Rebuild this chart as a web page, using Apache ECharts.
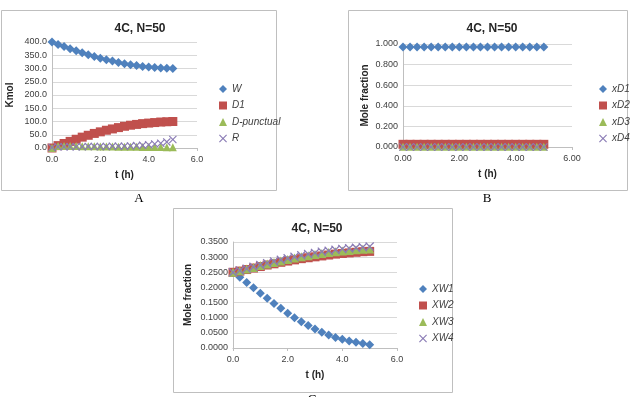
<!DOCTYPE html>
<html>
<head>
<meta charset="utf-8">
<script src="https://cdn.jsdelivr.net/npm/echarts@6/dist/echarts.min.js"></script>
<style>
  html, body { margin: 0; padding: 0; background: #fff; }
  #main { width: 639px; height: 397px; }
</style>
</head>
<body>
<div id="main"></div>
<script>
// time steps (h), shared by the three panels
const tHours = [0, 0.25, 0.5, 0.75, 1, 1.25, 1.5, 1.75, 2, 2.25, 2.5, 2.75, 3, 3.25, 3.5, 3.75, 4, 4.25, 4.5, 4.75, 5];

// panel A (Kmol)
const W = [400, 391, 383, 375, 367, 359, 352, 345, 339, 333, 328, 323, 318, 314, 311, 308, 306, 304, 302, 301, 300];
const D1 = [0, 9, 17, 25, 33, 41, 48, 55, 61, 67, 72, 77, 82, 86, 89, 92, 94, 96, 98, 99, 100];
const Dpunctual = [0, 8, 8, 8, 8, 7, 7, 7, 6, 6, 6, 5, 5, 5, 5, 4, 4, 4, 4, 3, 3];
const R = [2, 5, 5, 5, 5, 5, 6, 6, 6, 6, 7, 7, 7, 8, 9, 10, 12, 15, 18, 23, 32];

// panel B (mole fraction, distillate)
const xD1 = [0.972, 0.972, 0.972, 0.972, 0.972, 0.972, 0.972, 0.972, 0.972, 0.972, 0.972, 0.972, 0.972, 0.972, 0.972, 0.972, 0.972, 0.972, 0.972, 0.972, 0.972];
const xD2 = [0.026, 0.026, 0.026, 0.026, 0.026, 0.026, 0.026, 0.026, 0.026, 0.026, 0.026, 0.026, 0.026, 0.026, 0.026, 0.026, 0.026, 0.026, 0.026, 0.026, 0.026];
const xD3 = [0.002, 0.002, 0.002, 0.002, 0.002, 0.002, 0.002, 0.002, 0.002, 0.002, 0.002, 0.002, 0.002, 0.002, 0.002, 0.002, 0.002, 0.002, 0.002, 0.002, 0.002];
const xD4 = [0, 0, 0, 0, 0, 0, 0, 0, 0, 0, 0, 0, 0, 0, 0, 0, 0, 0, 0, 0, 0];

// panel C (mole fraction, still)
const XW1 = [0.250, 0.234, 0.216, 0.199, 0.181, 0.164, 0.147, 0.131, 0.115, 0.100, 0.087, 0.074, 0.063, 0.052, 0.043, 0.035, 0.029, 0.023, 0.019, 0.015, 0.011];
const XW2 = [0.250, 0.254, 0.259, 0.264, 0.269, 0.274, 0.278, 0.283, 0.287, 0.291, 0.295, 0.298, 0.301, 0.304, 0.307, 0.310, 0.312, 0.314, 0.316, 0.318, 0.319];
const XW3 = [0.250, 0.255, 0.261, 0.266, 0.272, 0.277, 0.282, 0.287, 0.292, 0.297, 0.301, 0.305, 0.309, 0.312, 0.315, 0.318, 0.320, 0.322, 0.324, 0.326, 0.327];
const XW4 = [0.250, 0.256, 0.262, 0.268, 0.274, 0.280, 0.286, 0.291, 0.296, 0.301, 0.306, 0.310, 0.314, 0.318, 0.321, 0.324, 0.327, 0.329, 0.331, 0.333, 0.335];

const panelLetters = ['A', 'B', 'C'];
const titleText = '4C, N=50';

const FONT = 'Liberation Sans';
const CROSS = 'path://M0,1L1,0L5,4L9,0L10,1L6,5L10,9L9,10L5,6L1,10L0,9L4,5Z';
const colors = ['#4f81bd', '#c0504d', '#9bbb59', '#8a7bb5'];
const symbols = ['diamond', 'rect', 'triangle', CROSS];

function pts(ys) {
  return tHours.map((t, i) => [t, ys[i]]);
}

const panels = [
  { grid: { left: 52, top: 42, width: 145, height: 106 }, box: [1, 10, 275, 180], titleX: 135, titleY: 18,
    yMax: 400, yInt: 50, yDec: 1, xDec: 1, yName: 'Kmol', yGap: 37,
    legendLeft: 214, legendTop: 79, names: ['W', 'D1', 'D-punctual', 'R'], data: [W, D1, Dpunctual, R],
    sizes: [9, 9, 8, 8] },
  { grid: { left: 403, top: 44, width: 169, height: 103 }, box: [348, 10, 279, 180], titleX: 487, titleY: 18,
    yMax: 1, yInt: 0.2, yDec: 3, xDec: 2, yName: 'Mole fraction', yGap: 33,
    legendLeft: 594, legendTop: 79, names: ['xD1', 'xD2', 'xD3', 'xD4'], data: [xD1, xD2, xD3, xD4],
    sizes: [9, 9, 8, 8] },
  { grid: { left: 233, top: 242, width: 164, height: 106 }, box: [173, 208, 279, 184], titleX: 312, titleY: 218,
    yMax: 0.35, yInt: 0.05, yDec: 4, xDec: 1, yName: 'Mole fraction', yGap: 40,
    legendLeft: 414, legendTop: 279, names: ['XW1', 'XW2', 'XW3', 'XW4'], data: [XW1, XW2, XW3, XW4],
    sizes: [9, 9, 9, 9] }
];

const chart = echarts.init(document.getElementById('main'));

const grid = [], xAxis = [], yAxis = [], legend = [], series = [], graphic = [], title = [];

panels.forEach((p, k) => {
  grid.push(p.grid);
  graphic.push({
    type: 'rect', shape: { x: p.box[0] + 0.5, y: p.box[1] + 0.5, width: p.box[2], height: p.box[3] },
    style: { fill: 'none', stroke: '#bfbfbf', lineWidth: 1 }, z: -1
  });
  title.push({
    text: titleText, left: p.titleX, top: p.titleY, textAlign: 'center',
    textStyle: { fontFamily: FONT, fontSize: 12, fontWeight: 'bold', color: '#262626' }
  });
  xAxis.push({
    type: 'value', gridIndex: k, min: 0, max: 6, interval: 2,
    name: 't (h)', nameLocation: 'middle', nameGap: 22,
    nameTextStyle: { fontFamily: FONT, fontSize: 10, fontWeight: 'bold', color: '#262626' },
    axisLine: { show: true, lineStyle: { color: '#bfbfbf' } },
    axisTick: { show: true, length: 3, lineStyle: { color: '#bfbfbf' } },
    axisLabel: { fontFamily: FONT, fontSize: 9, color: '#404040', margin: 7,
      formatter: v => v.toFixed(p.xDec) },
    splitLine: { show: false }
  });
  yAxis.push({
    type: 'value', gridIndex: k, min: 0, max: p.yMax, interval: p.yInt,
    name: p.yName, nameLocation: 'middle', nameGap: p.yGap,
    nameTextStyle: { fontFamily: FONT, fontSize: 10, fontWeight: 'bold', color: '#262626' },
    axisLine: { show: true, lineStyle: { color: '#bfbfbf' } },
    axisTick: { show: false },
    axisLabel: { fontFamily: FONT, fontSize: 9, color: '#404040', margin: 5,
      formatter: v => v.toFixed(p.yDec) },
    splitLine: { show: true, lineStyle: { color: '#d9d9d9' } }
  });
  legend.push({
    orient: 'vertical', left: p.legendLeft, top: p.legendTop, itemGap: 6.5,
    itemWidth: 8, itemHeight: 8,
    textStyle: { fontFamily: FONT, fontSize: 10, fontStyle: 'italic', color: '#404040' },
    data: p.names.map((n, i) => ({ name: n, icon: symbols[i] }))
  });
  p.names.forEach((n, i) => {
    series.push({
      name: n, type: 'line', xAxisIndex: k, yAxisIndex: k,
      data: pts(p.data[i]),
      showSymbol: true, symbol: symbols[i], symbolSize: p.sizes[i],
      lineStyle: { width: 0, opacity: 0 },
      itemStyle: { color: colors[i] },
      animation: false, z: 2 + i
    });
  });
});

panelLetters.forEach((letter, k) => {
  const pos = [[139, 192], [487, 192], [312, 393]][k];
  graphic.push({
    type: 'text', x: pos[0], y: pos[1],
    style: { text: letter, fontFamily: 'Liberation Serif', fontSize: 13, fill: '#000', textAlign: 'center' }
  });
});

chart.setOption({
  backgroundColor: '#fff',
  animation: false,
  title: title,
  grid: grid,
  xAxis: xAxis,
  yAxis: yAxis,
  legend: legend,
  series: series,
  graphic: graphic
});
</script>
</body>
</html>
